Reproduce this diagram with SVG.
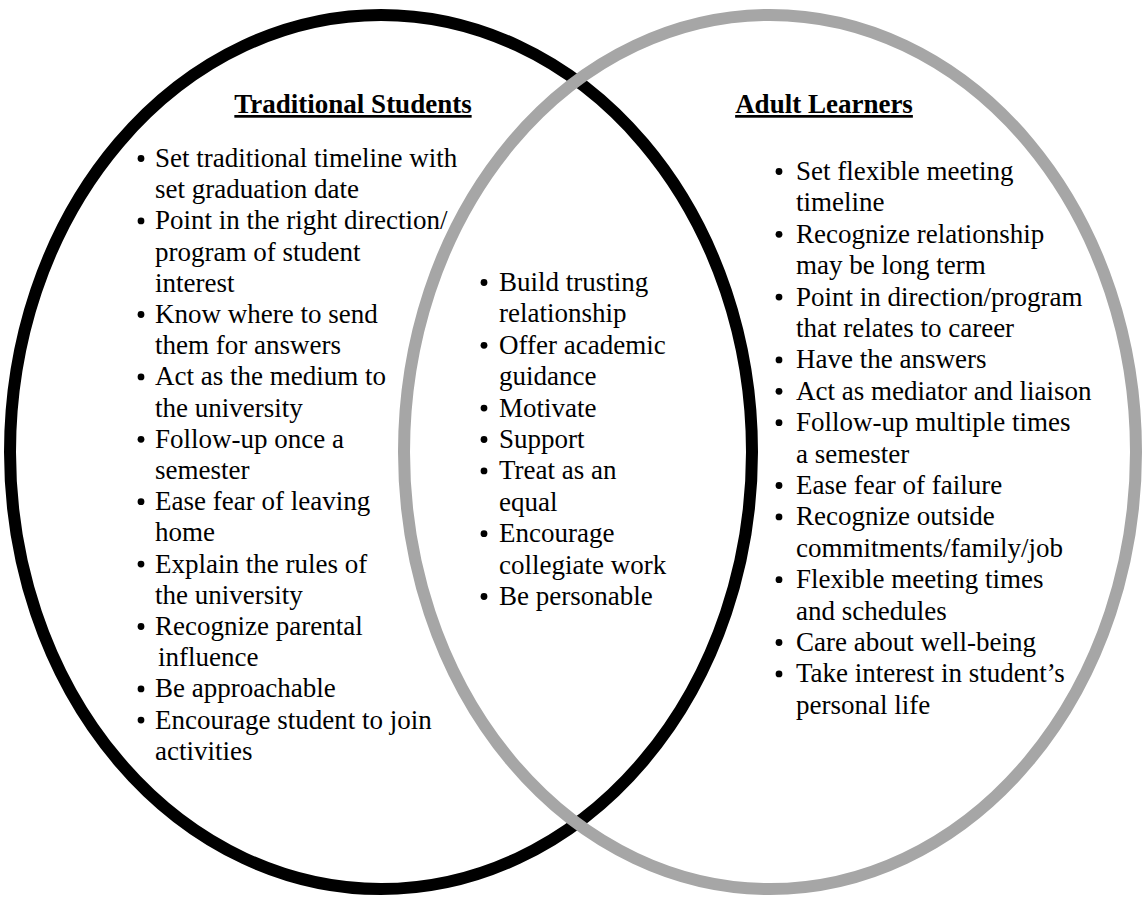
<svg xmlns="http://www.w3.org/2000/svg" width="1142" height="897" viewBox="0 0 1142 897">
<style>
.t{font-family:"Liberation Serif","Times New Roman",serif;font-size:27px;fill:#000}
.h{font-family:"Liberation Serif","Times New Roman",serif;font-size:27px;font-weight:bold;fill:#000;text-decoration:underline;text-anchor:middle}
.ring{fill:none;stroke-width:12}
</style>
<defs>
<circle id="dot" cx="0" cy="-8.5" r="3.4" fill="#000"/>
</defs>
<rect width="1142" height="897" fill="#fff"/>
<g id="circles">
<ellipse id="ring-traditional" class="ring" cx="381" cy="452" rx="371" ry="437" stroke="#000"/>
<ellipse id="ring-adult" class="ring" cx="770" cy="452" rx="366" ry="437" stroke="#a6a6a6"/>
</g>
<g id="connectors"></g>
<g id="node-traditional">
<text class="h" x="353" y="113">Traditional Students</text>
<g id="bullets-traditional">
<use href="#dot" x="141" y="167"/>
<use href="#dot" x="141" y="229.4"/>
<use href="#dot" x="141" y="323"/>
<use href="#dot" x="141" y="385.4"/>
<use href="#dot" x="141" y="447.8"/>
<use href="#dot" x="141" y="510.2"/>
<use href="#dot" x="141" y="572.6"/>
<use href="#dot" x="141" y="635"/>
<use href="#dot" x="141" y="697.4"/>
<use href="#dot" x="141" y="728.6"/>
</g>
<g class="t">
<text x="155" y="167">Set traditional timeline with</text>
<text x="155" y="198.2">set graduation date</text>
<text x="155" y="229.4">Point in the right direction/</text>
<text x="155" y="260.6">program of student</text>
<text x="155" y="291.8">interest</text>
<text x="155" y="323">Know where to send</text>
<text x="155" y="354.2">them for answers</text>
<text x="155" y="385.4">Act as the medium to</text>
<text x="155" y="416.6">the university</text>
<text x="155" y="447.8">Follow-up once a</text>
<text x="155" y="479">semester</text>
<text x="155" y="510.2">Ease fear of leaving</text>
<text x="155" y="541.4">home</text>
<text x="155" y="572.6">Explain the rules of</text>
<text x="155" y="603.8">the university</text>
<text x="155" y="635">Recognize parental</text>
<text x="158" y="666.2">influence</text>
<text x="155" y="697.4">Be approachable</text>
<text x="155" y="728.6">Encourage student to join</text>
<text x="155" y="759.8">activities</text>
</g>
</g>
<g id="node-shared">
<g id="bullets-shared">
<use href="#dot" x="484" y="291"/>
<use href="#dot" x="484" y="353.8"/>
<use href="#dot" x="484" y="416.6"/>
<use href="#dot" x="484" y="448"/>
<use href="#dot" x="484" y="479.4"/>
<use href="#dot" x="484" y="542.2"/>
<use href="#dot" x="484" y="605"/>
</g>
<g class="t">
<text x="499" y="291">Build trusting</text>
<text x="499" y="322.4">relationship</text>
<text x="499" y="353.8">Offer academic</text>
<text x="499" y="385.2">guidance</text>
<text x="499" y="416.6">Motivate</text>
<text x="499" y="448">Support</text>
<text x="499" y="479.4">Treat as an</text>
<text x="499" y="510.8">equal</text>
<text x="499" y="542.2">Encourage</text>
<text x="499" y="573.6">collegiate work</text>
<text x="499" y="605">Be personable</text>
</g>
</g>
<g id="node-adult">
<text class="h" x="824" y="113">Adult Learners</text>
<g id="bullets-adult">
<use href="#dot" x="779" y="180"/>
<use href="#dot" x="779" y="242.8"/>
<use href="#dot" x="779" y="305.6"/>
<use href="#dot" x="779" y="368.4"/>
<use href="#dot" x="779" y="399.8"/>
<use href="#dot" x="779" y="431.2"/>
<use href="#dot" x="779" y="494"/>
<use href="#dot" x="779" y="525.4"/>
<use href="#dot" x="779" y="588.2"/>
<use href="#dot" x="779" y="651"/>
<use href="#dot" x="779" y="682.4"/>
</g>
<g class="t">
<text x="796" y="180">Set flexible meeting</text>
<text x="796" y="211.4">timeline</text>
<text x="796" y="242.8">Recognize relationship</text>
<text x="796" y="274.2">may be long term</text>
<text x="796" y="305.6">Point in direction/program</text>
<text x="796" y="337">that relates to career</text>
<text x="796" y="368.4">Have the answers</text>
<text x="796" y="399.8">Act as mediator and liaison</text>
<text x="796" y="431.2">Follow-up multiple times</text>
<text x="796" y="462.6">a semester</text>
<text x="796" y="494">Ease fear of failure</text>
<text x="796" y="525.4">Recognize outside</text>
<text x="796" y="556.8">commitments/family/job</text>
<text x="796" y="588.2">Flexible meeting times</text>
<text x="796" y="619.6">and schedules</text>
<text x="796" y="651">Care about well-being</text>
<text x="796" y="682.4">Take interest in student’s</text>
<text x="796" y="713.8">personal life</text>
</g>
</g>
</svg>
